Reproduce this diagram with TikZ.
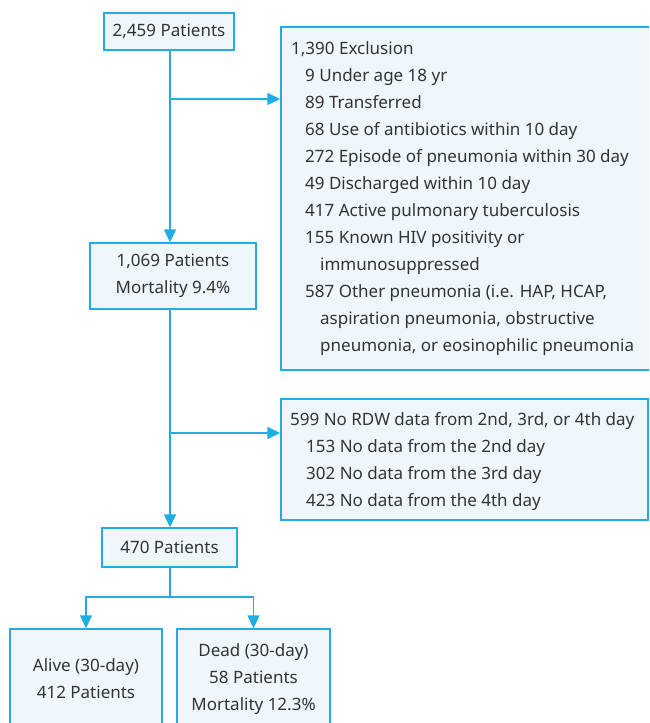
\documentclass[tikz,border=0pt]{standalone}
\usepackage{fontspec}
\setmainfont{Noto Sans}
\usetikzlibrary{arrows.meta}
\definecolor{edge}{HTML}{1FADE4}
\definecolor{boxfill}{HTML}{EFF7FD}
\definecolor{ink}{HTML}{333333}
\tikzset{
  box/.style={draw=edge, fill=boxfill, line width=1.4pt, inner sep=0pt, align=center,
    text=ink, font=\fontsize{17}{27}\selectfont},
  listtext/.style={inner sep=0pt, anchor=north west, align=left, text=ink,
    font=\fontsize{17}{27}\selectfont},
  conn/.style={draw=edge, line width=1.4pt},
  arr/.style={conn, -{Triangle[length=13pt,width=12pt]}},
}
\begin{document}
\begin{tikzpicture}[x=1pt,y=-1pt]
\useasboundingbox (0,0) rectangle (649,723);
\clip (0,0) rectangle (649,723);
% main column
\node[box, minimum width=130, minimum height=37] (n1) at (169,31.5) {2,459 Patients};
\node[box, minimum width=166, minimum height=66] (n2) at (173,276) {1,069 Patients\\Mortality 9.4\%};
\node[box, minimum width=135, minimum height=39] (n3) at (169.5,547.5) {470 Patients};
\node[box, minimum width=152, minimum height=100] (alive) at (86,679) {Alive (30-day)\\412 Patients};
\node[box, minimum width=153, minimum height=100] (dead) at (253.5,679) {Dead (30-day)\\58 Patients\\Mortality 12.3\%};
% exclusion boxes
\node[box, minimum width=420, minimum height=343] (ex1) at (491,198.5) {};
\node[listtext] (ex1t) at (291,35.1) {\strut 1,390 Exclusion\\
\hspace*{14pt}9 Under age 18 yr\\
\hspace*{14pt}89 Transferred\\
\hspace*{14pt}68 Use of antibiotics within 10 day\\
\hspace*{14pt}272 Episode of pneumonia within 30 day\\
\hspace*{14pt}49 Discharged within 10 day\\
\hspace*{14pt}417 Active pulmonary tuberculosis\\
\hspace*{14pt}155 Known HIV positivity or\\
\hspace*{29pt}immunosuppressed\\
\hspace*{14pt}587 Other pneumonia (i.e. HAP, HCAP,\\
\hspace*{29pt}aspiration pneumonia, obstructive\\
\hspace*{29pt}pneumonia, or eosinophilic pneumonia};
\node[box, minimum width=367, minimum height=121] (ex2) at (464.5,459.5) {};
\node[listtext] (ex2t) at (290,406.1) {\strut 599 No RDW data from 2nd, 3rd, or 4th day\\
\hspace*{16pt}153 No data from the 2nd day\\
\hspace*{16pt}302 No data from the 3rd day\\
\hspace*{16pt}423 No data from the 4th day};
% connectors
\coordinate (b1) at (170,99);
\coordinate (b2) at (170,433);
\coordinate (s) at (170,597);
\draw[arr] (n1.south -| b1) -- (n2.north -| b1);
\draw[arr] (b1) -- (b1 -| ex1.west);
\draw[arr] (n2.south -| b2) -- (n3.north -| b2);
\draw[arr] (b2) -- (b2 -| ex2.west);
\draw[conn] (n3.south -| s) -- (s);
\draw[arr] (s) -| (alive.north);
\draw[arr] (s) -| (dead.north);
\end{tikzpicture}
\end{document}
